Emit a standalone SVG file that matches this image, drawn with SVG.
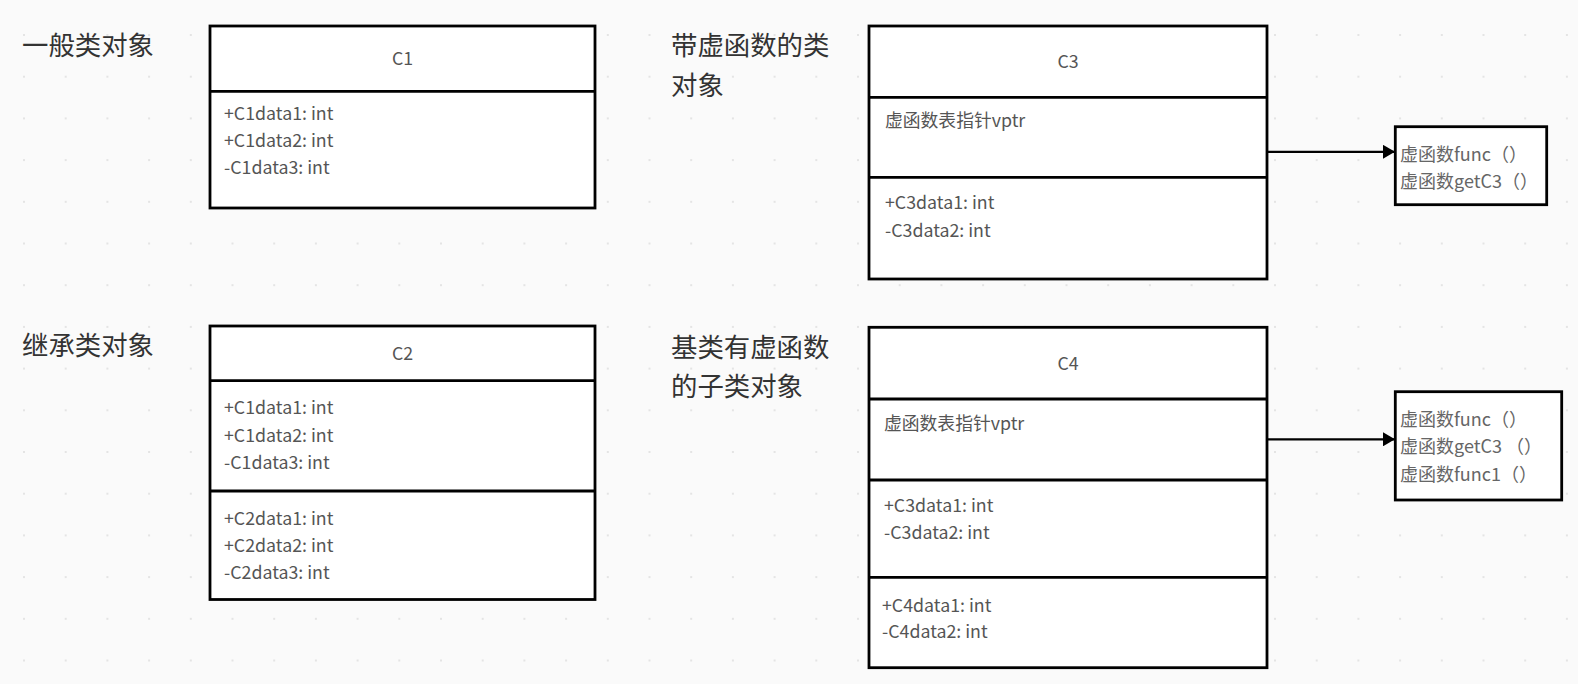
<svg xmlns="http://www.w3.org/2000/svg" width="1578" height="684" viewBox="0 0 1578 684">
<style>
.box{fill:#ffffff;stroke:#000;stroke-width:2.8}
.dv{stroke:#000;stroke-width:2.8;fill:none}
.t{font-family:"Noto Sans CJK SC","Noto Sans",sans-serif;font-size:17.8px;fill:#555}
.ti{text-anchor:middle}
.lb{font-family:"Noto Sans CJK SC","Noto Sans",sans-serif;font-size:26.4px;fill:#333}
.vt{font-family:"Noto Sans CJK SC","Noto Sans",sans-serif;font-size:18px;fill:#666}
.cn{stroke:#000;stroke-width:2.2;fill:none}
</style>
<defs>
<pattern id="grid" patternUnits="userSpaceOnUse" x="3.15" y="14.15" width="41.7" height="41.7">
<circle cx="20.85" cy="20.85" r="1" fill="#dcdcdc"/>
</pattern>
<marker id="arr" viewBox="0 0 12 14" refX="12" refY="7" markerWidth="12" markerHeight="14" markerUnits="userSpaceOnUse" orient="auto">
<path d="M0,0 L12,7 L0,14 Z" fill="#000"/>
</marker>
</defs>
<rect x="0" y="0" width="1578" height="684" fill="#fafafa"/>
<rect x="0" y="0" width="1578" height="684" fill="url(#grid)"/>

<g id="label-general"><text class="lb" x="22" y="55">一般类对象</text></g>
<g id="label-inherit"><text class="lb" x="22" y="355">继承类对象</text></g>
<g id="label-virtual"><text class="lb" x="671" y="55">带虚函数的类</text><text class="lb" x="671" y="95">对象</text></g>
<g id="label-derived-virtual"><text class="lb" x="671" y="357">基类有虚函数</text><text class="lb" x="671" y="396">的子类对象</text></g>

<g id="C1">
<rect class="box" x="210" y="26" width="385" height="182"/>
<line class="dv" x1="210" y1="91.3" x2="595" y2="91.3"/>
<text class="t ti" x="402.5" y="65">C1</text>
<text class="t" x="224" y="120">+C1data1: int</text>
<text class="t" x="224" y="147">+C1data2: int</text>
<text class="t" x="224" y="174">-C1data3: int</text>
</g>

<g id="C2">
<rect class="box" x="210" y="326" width="385" height="273.5"/>
<line class="dv" x1="210" y1="380.7" x2="595" y2="380.7"/>
<line class="dv" x1="210" y1="491" x2="595" y2="491"/>
<text class="t ti" x="402.5" y="360">C2</text>
<text class="t" x="224" y="414">+C1data1: int</text>
<text class="t" x="224" y="441.5">+C1data2: int</text>
<text class="t" x="224" y="468.5">-C1data3: int</text>
<text class="t" x="224" y="524.5">+C2data1: int</text>
<text class="t" x="224" y="551.5">+C2data2: int</text>
<text class="t" x="224" y="578.5">-C2data3: int</text>
</g>

<g id="C3">
<rect class="box" x="869" y="26" width="398" height="253"/>
<line class="dv" x1="869" y1="97.3" x2="1267" y2="97.3"/>
<line class="dv" x1="869" y1="177.3" x2="1267" y2="177.3"/>
<text class="t ti" x="1068" y="68">C3</text>
<text class="t" x="885" y="127">虚函数表指针vptr</text>
<text class="t" x="885" y="209.3">+C3data1: int</text>
<text class="t" x="885" y="236.7">-C3data2: int</text>
</g>

<g id="C4">
<rect class="box" x="869" y="327.3" width="398" height="340.4"/>
<line class="dv" x1="869" y1="399" x2="1267" y2="399"/>
<line class="dv" x1="869" y1="480" x2="1267" y2="480"/>
<line class="dv" x1="869" y1="577.3" x2="1267" y2="577.3"/>
<text class="t ti" x="1068" y="369.5">C4</text>
<text class="t" x="884" y="430">虚函数表指针vptr</text>
<text class="t" x="884" y="511.7">+C3data1: int</text>
<text class="t" x="884" y="539">-C3data2: int</text>
<text class="t" x="882" y="611.7">+C4data1: int</text>
<text class="t" x="882" y="638.3">-C4data2: int</text>
</g>

<g id="vtable1">
<rect class="box" x="1395.3" y="126.7" width="151.4" height="78"/>
<text class="vt" x="1400" y="160.7">虚函数func（）</text>
<text class="vt" x="1400" y="188">虚函数getC3（）</text>
</g>

<g id="vtable2">
<rect class="box" x="1395.3" y="391.7" width="166.4" height="108.3"/>
<text class="vt" x="1400" y="426">虚函数func（）</text>
<text class="vt" x="1400" y="453.3">虚函数getC3 （）</text>
<text class="vt" x="1400" y="480.7">虚函数func1（）</text>
</g>

<g id="connectors">
<line class="cn" x1="1268" y1="151.8" x2="1395" y2="151.8" marker-end="url(#arr)"/>
<line class="cn" x1="1268" y1="439.3" x2="1395" y2="439.3" marker-end="url(#arr)"/>
</g>
</svg>
